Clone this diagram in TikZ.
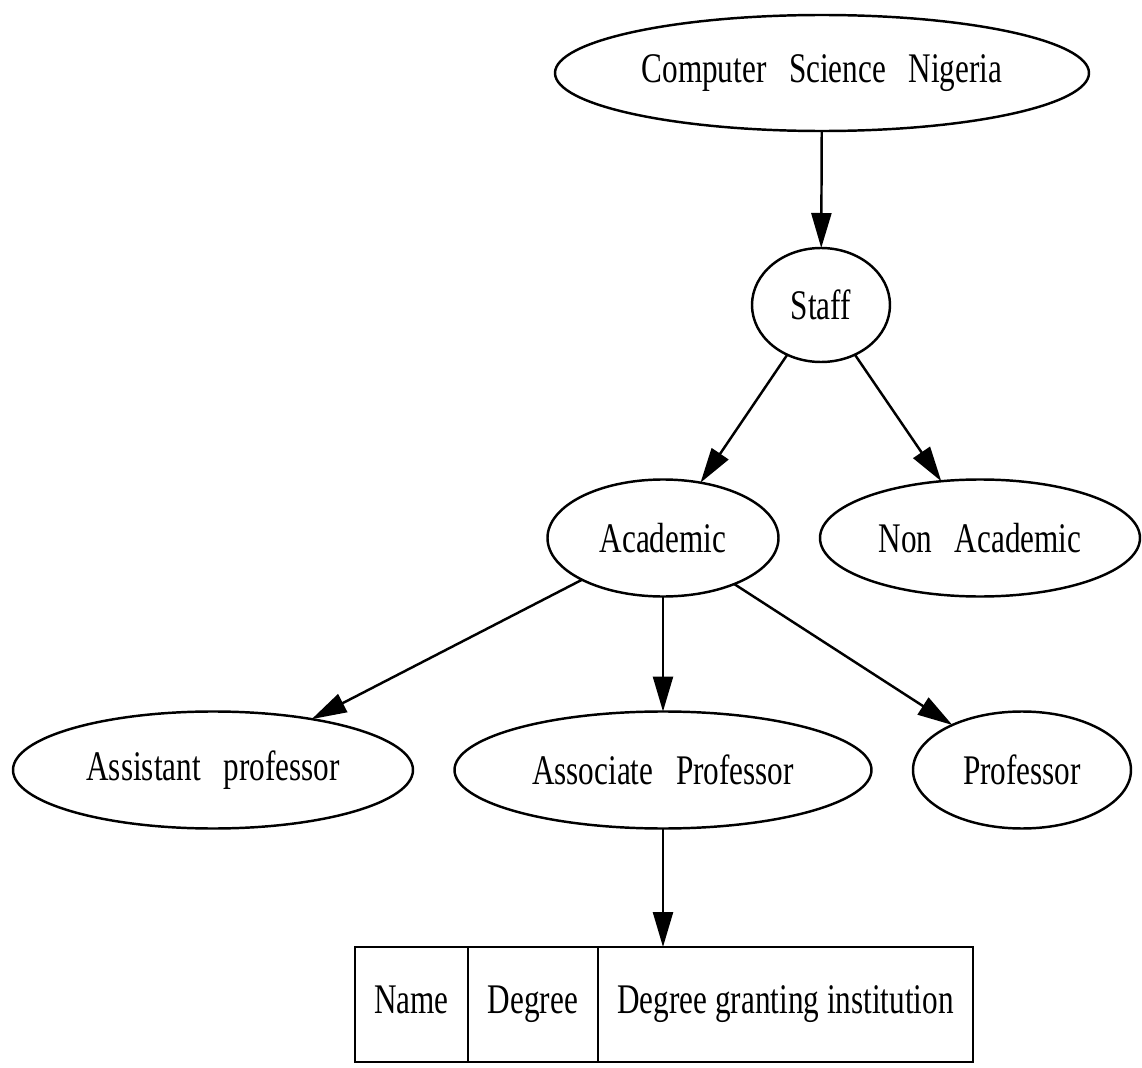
\documentclass[tikz,border=0pt]{standalone}
\usepackage{fontspec}
\setmainfont{Liberation Serif}[FakeStretch=0.74]
\newfontfamily\ovalfont{Liberation Serif}[FakeStretch=0.74,WordSpace=2.9]
\usepackage{tikz}
\usetikzlibrary{positioning,arrows.meta,shapes.geometric}

\begin{document}
\begin{tikzpicture}[
  font=\fontsize{12}{14}\selectfont,
  oval/.style={draw, ellipse, line width=0.7pt, inner sep=0pt, outer sep=0pt,
    font=\fontsize{12}{14}\selectfont\ovalfont},
  cell/.style={draw, rectangle, line width=0.7pt, inner sep=0pt, outer sep=0pt,
    minimum height=1.15cm, text height=1.6ex, text depth=0.5ex},
  link/.style={line width=0.7pt, -{Triangle[length=3.5mm,width=2mm]}}]
\useasboundingbox (0,0) rectangle (11.42,-10.68);
% top of the tree
\node[oval, minimum width=5.34cm, minimum height=1.16cm] (csn) at (8.22,-0.73) {Computer Science Nigeria};
\node[oval, minimum width=1.38cm, minimum height=1.14cm] (staff) at (8.21,-3.05) {Staff};
% staff kinds
\node[oval, minimum width=2.31cm, minimum height=1.17cm] (acad) at (6.63,-5.38) {Academic};
\node[oval, minimum width=3.20cm, minimum height=1.17cm] (nonacad) at (9.80,-5.38) {Non Academic};
% ranks
\node[oval, minimum width=4.00cm, minimum height=1.17cm] (asst) at (2.13,-7.70) {Assistant professor};
\node[oval, minimum width=4.17cm, minimum height=1.17cm] (assoc) at (6.63,-7.70) {Associate Professor};
\node[oval, minimum width=2.18cm, minimum height=1.17cm] (prof) at (10.22,-7.70) {Professor};
% record
\node[cell, minimum width=1.13cm] (rname) at (4.115,-10.045) {Name};
\node[cell, minimum width=1.30cm, right=0pt of rname] (rdeg) {Degree};
\node[cell, minimum width=3.75cm, right=0pt of rdeg] (rinst) {Degree granting institution};
% edges
\draw[link] (csn) -- (staff);
\draw[link] (staff) -- (acad);
\draw[link] (staff) -- (nonacad);
\draw[link] (acad) -- (asst);
\draw[link] (acad) -- (assoc);
\draw[link] (acad) -- (prof);
\draw[link] (assoc) -- (assoc |- rinst.north);
\end{tikzpicture}
\end{document}
